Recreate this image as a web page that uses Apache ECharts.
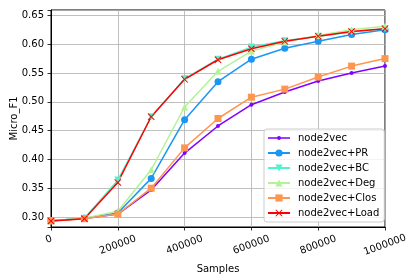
<!DOCTYPE html>
<html>
<head>
<meta charset="utf-8">
<script src="https://cdn.jsdelivr.net/npm/echarts@6/dist/echarts.min.js"></script>
<style>
html,body{margin:0;padding:0;background:#fff;}
#chart{width:414px;height:280px;}
</style>
</head>
<body>
<div id="chart"></div>
<script>
// ---- data ----
const samples = [0, 100000, 200000, 300000, 400000, 500000, 600000, 700000, 800000, 900000, 1000000];
const seriesNames = ['node2vec', 'node2vec+PR', 'node2vec+BC', 'node2vec+Deg', 'node2vec+Clos', 'node2vec+Load'];
const node2vec     = [0.2935, 0.2975, 0.305, 0.347, 0.411, 0.458, 0.495, 0.517, 0.536, 0.550, 0.562];
const node2vecPR   = [0.2935, 0.298, 0.307, 0.367, 0.469, 0.535, 0.574, 0.593, 0.605, 0.617, 0.625];
const node2vecBC   = [0.2935, 0.298, 0.364, 0.474, 0.540, 0.574, 0.595, 0.606, 0.614, 0.621, 0.627];
const node2vecDeg  = [0.2935, 0.298, 0.310, 0.382, 0.491, 0.553, 0.588, 0.604, 0.615, 0.625, 0.631];
const node2vecClos = [0.2935, 0.297, 0.305, 0.350, 0.420, 0.471, 0.508, 0.522, 0.543, 0.562, 0.575];
const node2vecLoad = [0.293, 0.297, 0.360, 0.474, 0.539, 0.573, 0.592, 0.605, 0.614, 0.622, 0.627];
const xTicks = [0, 200000, 400000, 600000, 800000, 1000000];
const yTicks = [0.30, 0.35, 0.40, 0.45, 0.50, 0.55, 0.60, 0.65];

// ---- styling ----
const colors = ['#8000ff', '#1a96f3', '#4df3ce', '#b3f396', '#ff964f', '#ff0000'];
const X_PATH = 'path://M1,0L5,4L9,0L10,1L6,5L10,9L9,10L5,6L1,10L0,9L4,5L0,1Z';
const DOT_LEGEND = 'path://M0,0M22,9M0,3.75L9.2,3.75L9.2,5.25L0,5.25ZM12.8,3.75L22,3.75L22,5.25L12.8,5.25ZM13,4.5A2,2,0,1,1,9,4.5A2,2,0,1,1,13,4.5Z';
const symbols = [
  {symbol: 'circle', size: 4, rotate: 0},
  {symbol: 'circle', size: 7, rotate: 0},
  {symbol: 'triangle', size: 7, rotate: 180},
  {symbol: 'triangle', size: 7, rotate: 0},
  {symbol: 'rect', size: 7, rotate: 0},
  {symbol: X_PATH, size: 7, rotate: 0}
];
const allValues = [node2vec, node2vecPR, node2vecBC, node2vecDeg, node2vecClos, node2vecLoad];
const font = 'DejaVu Sans';

const series = seriesNames.map((name, i) => ({
  name: name,
  type: 'line',
  data: samples.map((s, j) => [s, allValues[i][j]]),
  symbol: symbols[i].symbol,
  symbolSize: symbols[i].size,
  symbolRotate: symbols[i].rotate,
  showSymbol: true,
  showAllSymbol: true,
  lineStyle: {color: colors[i], width: 1.5},
  itemStyle: {color: colors[i], borderWidth: 0},
  emphasis: {disabled: true},
  animation: false
}));

const legendData = seriesNames.map((n, i) => i === 0 ? {name: n, icon: DOT_LEGEND} : {name: n});

const chart = echarts.init(document.getElementById('chart'), null, {renderer: 'canvas'});
chart.setOption({
  backgroundColor: '#ffffff',
  animation: false,
  textStyle: {fontFamily: font},
  grid: {left: 51, right: 29, top: 10, bottom: 53, show: true, borderColor: '#000', borderWidth: 1, backgroundColor: 'transparent'},
  xAxis: {
    type: 'value',
    min: 0, max: 1000000, interval: 200000,
    name: 'Samples', nameLocation: 'middle', nameGap: 37, nameMoveOverlap: false,
    nameTextStyle: {fontSize: 10, color: '#000', fontFamily: font},
    axisLine: {show: true, onZero: false, lineStyle: {color: '#000', width: 1}},
    axisTick: {show: true, inside: false, length: 3.5, lineStyle: {color: '#000', width: 0.8}},
    splitLine: {show: true, lineStyle: {color: '#b0b0b0', width: 0.8}},
    axisLabel: {
      rotate: 20, align: 'center', verticalAlign: 'middle', margin: 18,
      fontSize: 10, color: '#000', fontFamily: font,
      showMinLabel: true, showMaxLabel: true,
      formatter: function (v) {
        if (xTicks.indexOf(v) < 0) return '';
        return v === 0 ? '{z|0}' : String(v);
      },
      rich: {z: {fontSize: 10, fontFamily: font, color: '#000', padding: [0, 0, 12, 0]}}
    }
  },
  yAxis: {
    type: 'value',
    min: 0.2826, max: 0.6594, splitNumber: 8,
    name: 'Micro_F1', nameLocation: 'middle', nameGap: 32, nameMoveOverlap: false,
    nameTextStyle: {fontSize: 10, color: '#000', fontFamily: font},
    axisLine: {show: true, lineStyle: {color: '#000', width: 1}},
    axisTick: {show: true, inside: false, length: 3.5, lineStyle: {color: '#000', width: 0.8}},
    splitLine: {show: true, lineStyle: {color: '#b0b0b0', width: 0.8}},
    axisLabel: {
      margin: 7, fontSize: 10, color: '#000', fontFamily: font,
      formatter: function (v) {
        for (const t of yTicks) { if (Math.abs(v - t) < 1e-6) return t.toFixed(2); }
        return '';
      }
    }
  },
  legend: {
    show: true,
    orient: 'vertical',
    left: 264, top: 129,
    padding: [3, 5, 3, 3],
    itemWidth: 22, itemHeight: 9, itemGap: 3,
    backgroundColor: 'rgba(255,255,255,0.8)',
    borderColor: '#cccccc', borderWidth: 1, borderRadius: 3,
    textStyle: {fontSize: 10, color: '#000', fontFamily: font, lineHeight: 12, padding: [0, 0, 0, 3]},
    selectedMode: false,
    data: legendData
  },
  series: series
});
</script>
</body>
</html>
